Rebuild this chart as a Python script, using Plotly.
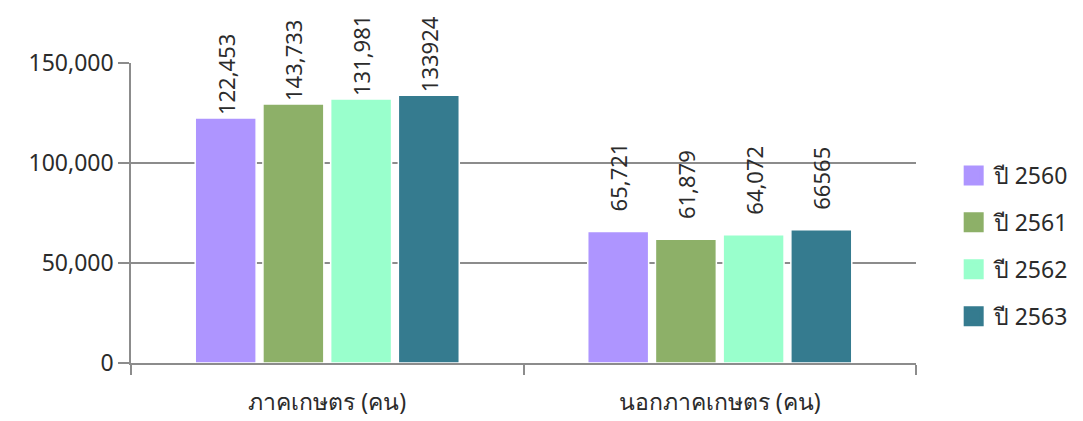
import plotly.graph_objects as go

categories = ["ภาคเกษตร (คน)", "นอกภาคเกษตร (คน)"]
series_names = ["ปี 2560", "ปี 2561", "ปี 2562", "ปี 2563"]
# bar heights as drawn
values_2560 = [122453, 65721]
values_2561 = [129500, 61879]
values_2562 = [131981, 64072]
values_2563 = [133924, 66565]
# data labels as printed
labels_2560 = ["122,453", "65,721"]
labels_2561 = ["143,733", "61,879"]
labels_2562 = ["131,981", "64,072"]
labels_2563 = ["133924", "66565"]
y_tickvals = [0, 50000, 100000, 150000]
y_ticktext = ["0", "50,000", "100,000", "150,000"]

colors = ["#AE95FF", "#8DB068", "#99FFCC", "#357B8F"]
all_values = [values_2560, values_2561, values_2562, values_2563]
all_labels = [labels_2560, labels_2561, labels_2562, labels_2563]

FONT = "Noto Sans, Open Sans, sans-serif"
TXT = "#2B2B2B"
Y_MAX = 150000


def pad_label(label, value):
    # labels near the top of the plot sit close to their bar (clamped, as in the original)
    return label if value > 0.8 * Y_MAX else "\u00a0\u00a0\u00a0" + label


fig = go.Figure()
for i, name in enumerate(series_names):
    fig.add_trace(go.Bar(
        x=categories, y=all_values[i], name=name,
        text=[pad_label(t, v) for t, v in zip(all_labels[i], all_values[i])],
        textposition="outside", textangle=-90,
        textfont=dict(size=22, color=TXT, family=FONT),
        marker=dict(color=colors[i], line=dict(color="#FFFFFF", width=1.5)),
        cliponaxis=False, showlegend=False,
    ))
# legend entries with larger square swatches
for i, name in enumerate(series_names):
    fig.add_trace(go.Scatter(
        x=[None], y=[None], mode="markers", name=name, legendgroup=name,
        marker=dict(symbol="square", size=16, color=colors[i],
                    line=dict(color=colors[i], width=4)),
        showlegend=True,
    ))

fig.update_layout(
    width=1083, height=421,
    margin=dict(l=123, r=175, t=55, b=66, autoexpand=False),
    paper_bgcolor="white", plot_bgcolor="white",
    barmode="group", bargap=0.31, bargroupgap=0.1,
    font=dict(family=FONT, size=23, color=TXT),
    showlegend=True,
    legend=dict(x=1.048, y=0.39, xanchor="left", yanchor="middle",
                font=dict(size=23, color=TXT, family=FONT),
                traceorder="grouped", tracegroupgap=14, itemsizing="trace"),
    uniformtext=dict(minsize=22, mode="show"),
)
fig.update_yaxes(range=[0, Y_MAX], tickvals=y_tickvals, ticktext=y_ticktext,
                 showgrid=True, gridcolor="#8C8C8C", gridwidth=1.5,
                 showline=True, linecolor="#8C8C8C", linewidth=1.5,
                 ticks="outside", ticklen=11, tickcolor="#8C8C8C", tickwidth=1.5,
                 tickfont=dict(size=23, color=TXT), zeroline=False, automargin=False)
fig.update_xaxes(showline=True, linecolor="#8C8C8C", linewidth=1.5,
                 ticks="outside", ticklen=10, tickcolor="#8C8C8C", tickwidth=1.5,
                 tickson="boundaries", automargin=False, ticklabelstandoff=18,
                 tickfont=dict(size=23, color=TXT))

fig.write_html("out.html")
